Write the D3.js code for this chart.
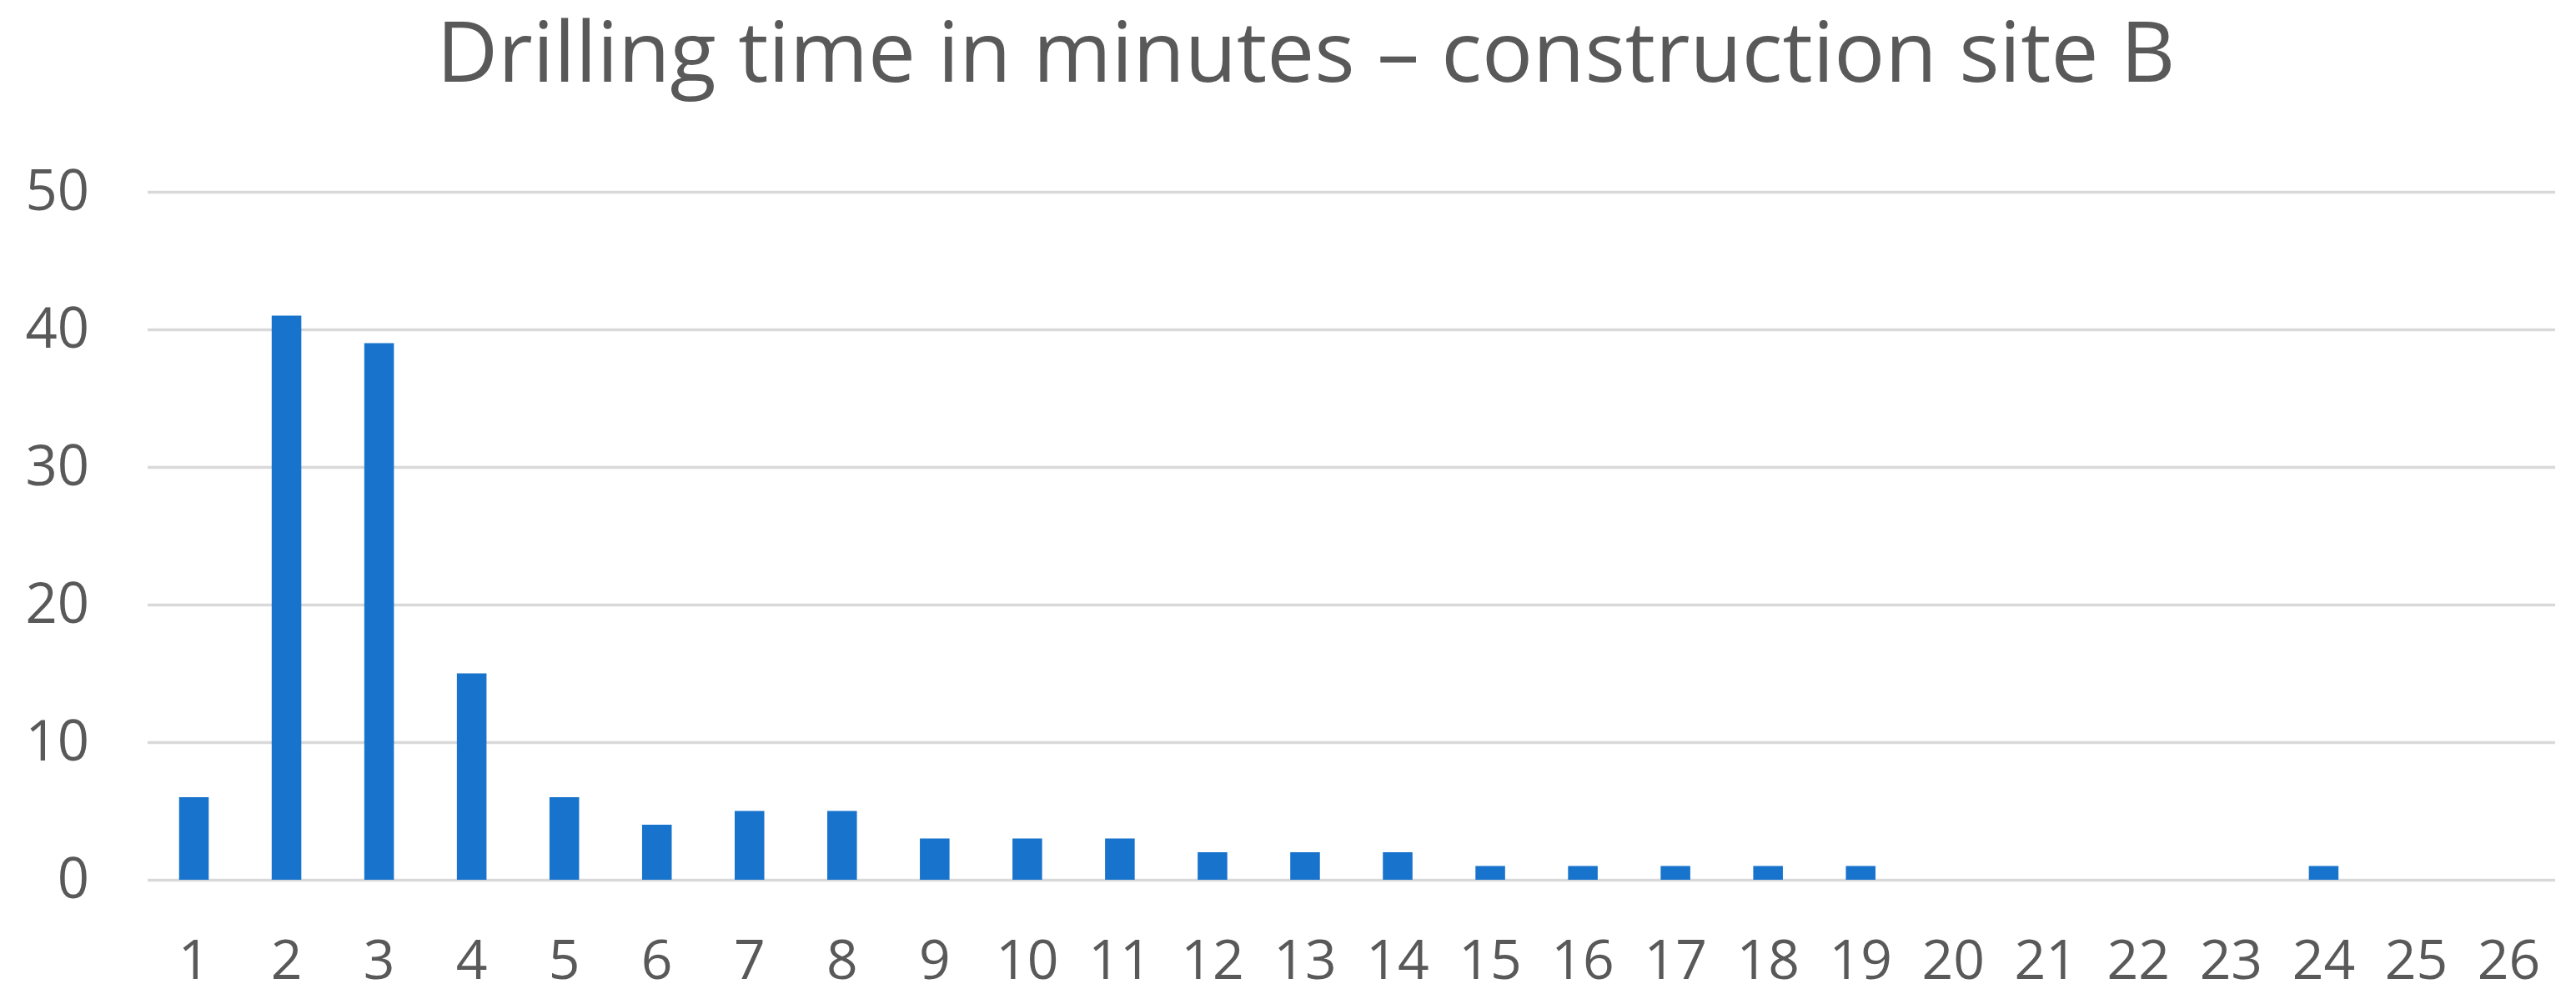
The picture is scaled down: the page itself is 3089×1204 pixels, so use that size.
<!DOCTYPE html>
<html>
<head>
<meta charset="utf-8">
<script src="https://cdn.jsdelivr.net/npm/d3@7"></script>
<style>
  body { margin: 0; background: #fff; }
  text { font-family: "Open Sans", "Noto Sans", sans-serif; fill: #595959; }
</style>
</head>
<body>
<svg></svg>
<script>
/*
    Data
*/
var minutes = ["1","2","3","4","5","6","7","8","9","10","11","12","13","14","15","16","17","18","19","20","21","22","23","24","25","26"]
var counts = [6,41,39,15,6,4,5,5,3,3,3,2,2,2,1,1,1,1,1,0,0,0,0,1,0,0]
var yTicks = [0,10,20,30,40,50]
var title = "Drilling time in minutes \u2013 construction site B"

/*
    Variables
*/
var width = 3089
var height = 1204
var margin = { top: 230, right: 25, bottom: 150, left: 177 }

var svg = d3.select("svg")
    .attr("width", width)
    .attr("height", height)

//Scales
var xScale = d3.scaleBand()
    .domain(minutes)
    .range([margin.left, width - margin.right])
    .paddingInner(0.68)
    .paddingOuter(0.34)

var yScale = d3.scaleLinear()
    .domain([0, 50])
    .range([1055, margin.top])

//Title
svg.append("text")
    .attr("x", 1566)
    .attr("y", 98)
    .attr("text-anchor", "middle")
    .style("font-size", "100px")
    .attr("textLength", 2085)
    .attr("lengthAdjust", "spacingAndGlyphs")
    .text(title)

//Gridlines + y labels
var yAxis = d3.axisLeft(yScale)
    .tickValues(yTicks)
    .tickSize(-(width - margin.right - margin.left))
    .tickPadding(70)

var gy = svg.append("g")
    .attr("transform", "translate(" + margin.left + ",0)")
    .call(yAxis)
gy.select(".domain").remove()
gy.selectAll(".tick line").attr("stroke", "#d9d9d9").attr("stroke-width", 3.5)
gy.selectAll(".tick text")
    .style("font-size", "67px")
    .attr("fill", "#595959")
    .attr("font-family", "Open Sans")

//Bars
svg.append("g")
    .selectAll("rect")
    .data(counts)
    .enter()
    .append("rect")
    .attr("x", function(d, i) { return xScale(minutes[i]) })
    .attr("y", function(d) { return yScale(d) })
    .attr("width", xScale.bandwidth())
    .attr("height", function(d) { return yScale(0) - yScale(d) })
    .attr("fill", "#1873cc")

//X labels
var xAxis = d3.axisBottom(xScale)
    .tickSize(0)
    .tickPadding(72)

var gx = svg.append("g")
    .attr("transform", "translate(0," + yScale(0) + ")")
    .call(xAxis)
gx.select(".domain").remove()
gx.selectAll(".tick text")
    .style("font-size", "66px")
    .attr("fill", "#595959")
    .attr("font-family", "Open Sans")
</script>
</body>
</html>
